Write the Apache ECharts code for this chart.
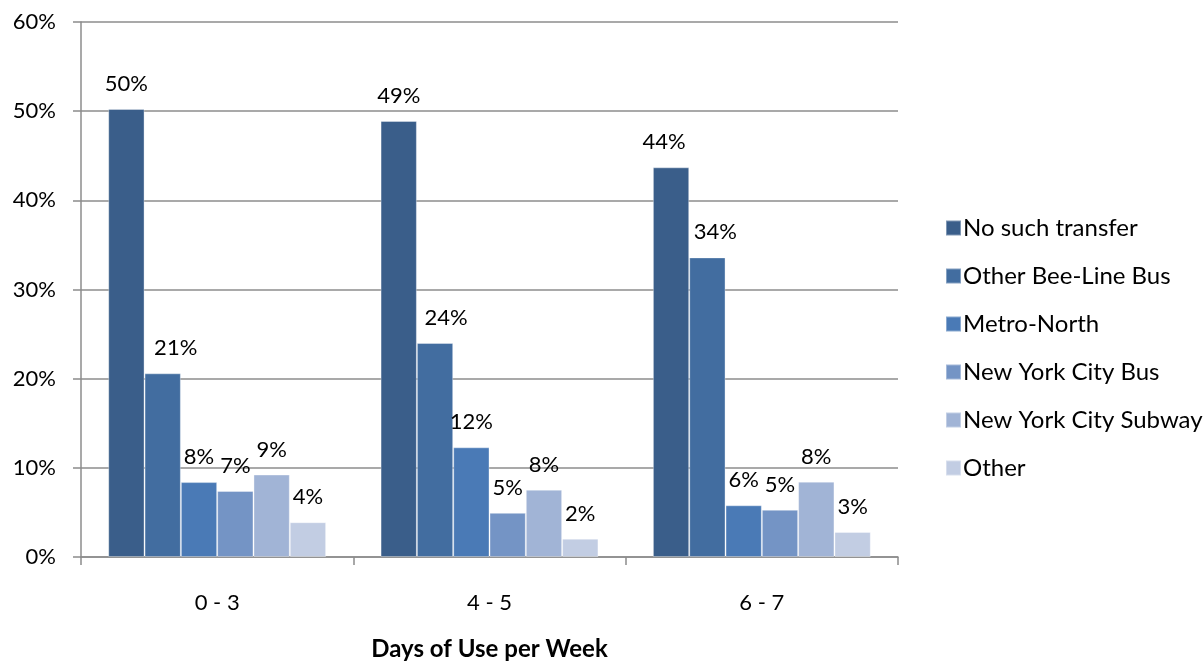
<!DOCTYPE html>
<html>
<head>
<meta charset="utf-8">
<script src="https://cdn.jsdelivr.net/npm/echarts@6/dist/echarts.min.js"></script>
<style>html,body{margin:0;padding:0;background:#fff;}#c{width:1204px;height:666px;}</style>
</head>
<body>
<div id="c"></div>
<script>
const categories = ['0 - 3', '4 - 5', '6 - 7'];
const seriesNames = ['No such transfer', 'Other Bee-Line Bus', 'Metro-North', 'New York City Bus', 'New York City Subway', 'Other'];
const noSuchTransfer = [50.25, 48.9, 43.7];
const otherBeeLineBus = [20.6, 24.0, 33.6];
const metroNorth = [8.4, 12.3, 5.8];
const nycBus = [7.4, 4.95, 5.3];
const nycSubway = [9.25, 7.55, 8.45];
const other = [3.9, 2.05, 2.8];
const yTicks = [0, 10, 20, 30, 40, 50, 60];
const xAxisTitle = 'Days of Use per Week';

const seriesValues = [noSuchTransfer, otherBeeLineBus, metroNorth, nycBus, nycSubway, other];
const colors = ['#3A5E8A', '#426DA0', '#4A7AB6', '#7494C5', '#A1B4D6', '#C2CDE3'];
// horizontal nudges of a few data labels (series index -> per-category shift), as in the reference layout
const labelNudge = {0: [0, 0, -7], 1: [13, 11, 8]};
const FONT = 'Lato';

const chart = echarts.init(document.getElementById('c'), null, {renderer: 'canvas'});
chart.setOption({
  animation: false,
  backgroundColor: '#ffffff',
  textStyle: {fontFamily: FONT},
  grid: {left: 81, right: 306, top: 22, bottom: 107, containLabel: false},
  legend: {
    orient: 'vertical', left: 940, top: 211,
    itemWidth: 15, itemHeight: 15, itemGap: 24,
    icon: 'rect',
    textStyle: {fontFamily: FONT, fontSize: 24, color: '#000', padding: [0, 0, 0, -3]},
    data: seriesNames
  },
  xAxis: {
    type: 'category', data: categories,
    name: xAxisTitle, nameLocation: 'middle', nameGap: 80,
    nameTextStyle: {fontFamily: FONT, fontSize: 24, fontWeight: 'bold', color: '#000'},
    axisLine: {lineStyle: {color: '#8c8c8c', width: 1.5}},
    axisTick: {show: true, length: 8, alignWithLabel: false, lineStyle: {color: '#8c8c8c', width: 1.5}},
    axisLabel: {fontFamily: FONT, fontSize: 22, color: '#000', margin: 35}
  },
  yAxis: {
    type: 'value', min: yTicks[0], max: yTicks[yTicks.length - 1], interval: 10,
    axisLine: {show: true, lineStyle: {color: '#8c8c8c', width: 1.5}},
    axisTick: {show: true, length: 8, lineStyle: {color: '#8c8c8c', width: 1.5}},
    splitLine: {lineStyle: {color: '#8c8c8c', width: 1.5}},
    axisLabel: {fontFamily: FONT, fontSize: 22, color: '#000', margin: 25, formatter: v => v + '%'}
  },
  series: seriesValues.map((vals, i) => ({
    name: seriesNames[i], type: 'bar',
    data: vals.map((v, j) => {
      const n = labelNudge[i] ? labelNudge[i][j] : 0;
      return n ? {value: v, label: {offset: [n, 0]}} : v;
    }),
    barGap: '0%', barCategoryGap: '20%',
    itemStyle: {color: colors[i], borderColor: 'rgba(255,255,255,0.35)', borderWidth: 1},
    label: {show: true, position: 'top', distance: 14, fontFamily: FONT, fontSize: 22, color: '#000',
      formatter: p => Math.round(p.value) + '%'}
  }))
});
</script>
</body>
</html>
